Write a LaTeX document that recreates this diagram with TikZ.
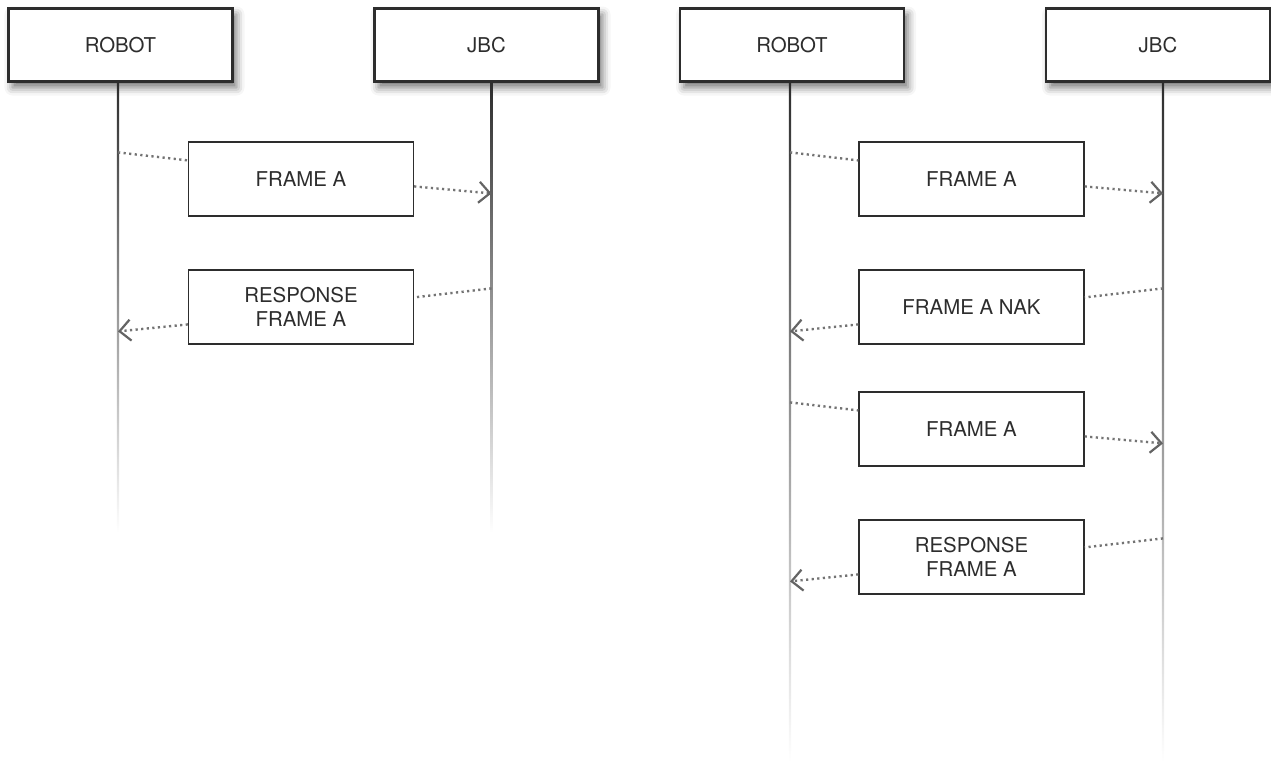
\documentclass[tikz,border=0pt]{standalone}
\usepackage{fontspec}
\setmainfont{TeX Gyre Heros}
\usepackage{tikz}
\usetikzlibrary{positioning,calc,arrows.meta,shadows.blur}
\definecolor{darkgrey}{RGB}{45,45,45}
\definecolor{dotgrey}{RGB}{115,115,115}
\definecolor{tipgrey}{RGB}{100,100,100}
\definecolor{lifegrey}{RGB}{140,140,140}

\begin{document}
\begin{tikzpicture}[x=0.5pt,y=-0.5pt,
    actor/.style={draw=darkgrey, line width=1.4pt, fill=white, minimum width=112pt, minimum height=36.5pt,
      text=darkgrey, font=\fontsize{10.2}{12}\selectfont,
      blur shadow={shadow xshift=2pt, shadow yshift=-3pt, shadow blur radius=4pt, shadow opacity=55}},
    msgbox/.style={draw=darkgrey, line width=0.6pt, fill=white, minimum width=112.5pt, minimum height=37pt,
      align=center, text=darkgrey, font=\fontsize{10.2}{12}\selectfont},
    msg/.style={dotgrey, line width=1.2pt, dash pattern=on 1.1pt off 1.7pt},
    msgto/.style={msg, -{Straight Barb[length=5.5pt, width=10.5pt, line width=1.1pt, color=tipgrey]}},
    life/.style={top color=darkgrey, middle color=lifegrey, bottom color=white}]
    \useasboundingbox (0,0) rectangle (1271,762);

    % first exchange
    \node[actor] (robotA) at (120.5,45) {ROBOT};
    \node[actor] (jbcA) at (486.5,45) {JBC};
    \coordinate (lifeRA) at ($(robotA.south)+(-2.5,0)$);
    \coordinate (lifeJA) at ($(jbcA.south)+(5,0)$);
    \shade[life] ($(lifeRA)+(-1.1,0)$) rectangle ($(lifeRA)+(1.1,450)$);
    \shade[life] ($(lifeJA)+(-1.1,0)$) rectangle ($(lifeJA)+(1.1,450)$);

    \node[msgbox] (frameA) at (301,179) {FRAME A};
    \node[msgbox] (respA) at (301,307) {RESPONSE\\FRAME A};

    \draw[msg] ($(frameA.north west -| lifeRA)+(0,11)$) -- ($(frameA.north west)+(0,19)$);
    \draw[msgto] ($(frameA.north east)+(0,45)$) -- ($(frameA.north east -| lifeJA)+(0,52)$);
    \draw[msg] ($(respA.north east -| lifeJA)+(0,19)$) -- ($(respA.north east)+(0,28)$);
    \draw[msgto] ($(respA.north west)+(0,55)$) -- ($(respA.north west -| lifeRA)+(0,62)$);

    % second exchange, with NAK
    \node[actor] (robotB) at (792,45) {ROBOT};
    \node[actor] (jbcB) at (1158,45) {JBC};
    \coordinate (lifeRB) at ($(robotB.south)+(-2,0)$);
    \coordinate (lifeJB) at ($(jbcB.south)+(5,0)$);
    \shade[life] ($(lifeRB)+(-1.1,0)$) rectangle ($(lifeRB)+(1.1,679)$);
    \shade[life] ($(lifeJB)+(-1.1,0)$) rectangle ($(lifeJB)+(1.1,679)$);

    \node[msgbox] (frameB) at (971.5,179) {FRAME A};
    \node[msgbox] (nakB) at (971.5,307) {FRAME A NAK};
    \node[msgbox] (againB) at (971.5,429) {FRAME A};
    \node[msgbox] (respB) at (971.5,557) {RESPONSE\\FRAME A};

    \draw[msg] ($(frameB.north west -| lifeRB)+(0,11)$) -- ($(frameB.north west)+(0,19)$);
    \draw[msgto] ($(frameB.north east)+(0,45)$) -- ($(frameB.north east -| lifeJB)+(0,52)$);
    \draw[msg] ($(nakB.north east -| lifeJB)+(0,19)$) -- ($(nakB.north east)+(0,28)$);
    \draw[msgto] ($(nakB.north west)+(0,55)$) -- ($(nakB.north west -| lifeRB)+(0,62)$);
    \draw[msg] ($(againB.north west -| lifeRB)+(0,11)$) -- ($(againB.north west)+(0,19)$);
    \draw[msgto] ($(againB.north east)+(0,45)$) -- ($(againB.north east -| lifeJB)+(0,52)$);
    \draw[msg] ($(respB.north east -| lifeJB)+(0,19)$) -- ($(respB.north east)+(0,28)$);
    \draw[msgto] ($(respB.north west)+(0,55)$) -- ($(respB.north west -| lifeRB)+(0,62)$);
\end{tikzpicture}
\end{document}
